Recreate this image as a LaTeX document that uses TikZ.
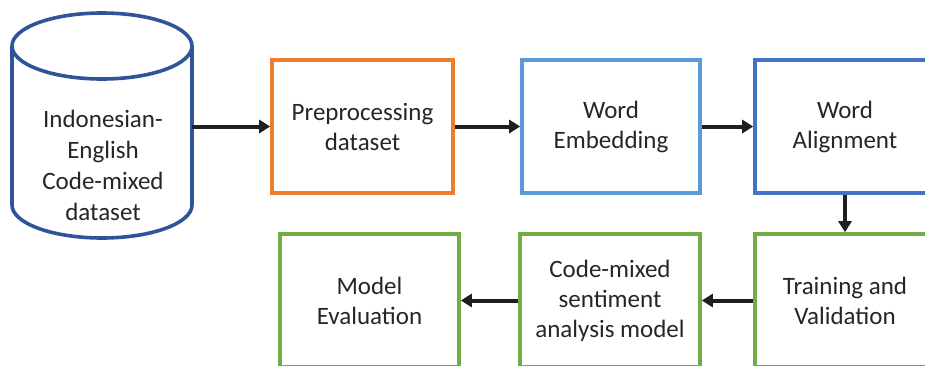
\documentclass[tikz,border=0pt]{standalone}
\usepackage{fontspec}
\setmainfont{Carlito}
\usetikzlibrary{arrows.meta}
\definecolor{cylblue}{HTML}{2F5597}
\definecolor{orng}{HTML}{ED7D31}
\definecolor{lblue}{HTML}{5B9BD5}
\definecolor{dblue}{HTML}{4472C4}
\definecolor{grn}{HTML}{70AD47}
\definecolor{txt}{HTML}{262626}
\tikzset{
  box/.style={draw=#1, line width=3.6pt, fill=white, align=center, text=txt,
    font=\fontsize{25}{30}\selectfont, inner sep=0pt},
  conn/.style={line width=4pt, draw=black!88, -{Triangle[length=11pt,width=13pt]}},
}
\begin{document}
\begin{tikzpicture}[x=1pt,y=-1pt]
\useasboundingbox (0,0) rectangle (925,365);
\clip (0,0) rectangle (925,365);
% cylinder
\draw[cylblue, line width=3.6pt, fill=white]
  (12,46) -- (12,205) arc[start angle=180,end angle=360,x radius=90,y radius=-33]
  -- (192,46) arc[start angle=0,end angle=180,x radius=90,y radius=-33] -- cycle;
\draw[cylblue, line width=3.6pt] (12,46) arc[start angle=180,end angle=360,x radius=90,y radius=-33];
\node[inner sep=0pt, minimum width=180pt, minimum height=226pt] (db) at (102,126.5) {};
\node[align=center, text=txt, font=\fontsize{25}{31}\selectfont, inner sep=0pt]
  (dbt) at (103,165) {Indonesian-\\English\\Code-mixed\\dataset};
% top row
\node[box=orng, minimum width=181pt, minimum height=133pt] (pre) at (362.5,126.5) {Preprocessing\\dataset};
\node[box=lblue, minimum width=178pt, minimum height=133pt] (we) at (611,126.5) {Word\\Embedding};
\node[box=dblue, minimum width=180pt, minimum height=133pt] (wa) at (845,126.5) {Word\\Alignment};
% bottom row
\node[box=grn, minimum width=180pt, minimum height=133pt] (tr) at (845,300.5) {Training and\\Validation};
\node[box=grn, minimum width=180pt, minimum height=133pt] (cm) at (610,300.5) {Code-mixed\\sentiment\\analysis model};
\node[box=grn, minimum width=179pt, minimum height=133pt] (me) at (369.5,300.5) {Model\\Evaluation};
% connectors
\draw[conn] (db.east) -- (pre.west);
\draw[conn] (pre.east) -- (we.west);
\draw[conn] (we.east) -- (wa.west);
\draw[conn] (wa.south) -- (tr.north);
\draw[conn] (tr.west) -- (cm.east);
\draw[conn] (cm.west) -- (me.east);
\end{tikzpicture}
\end{document}
